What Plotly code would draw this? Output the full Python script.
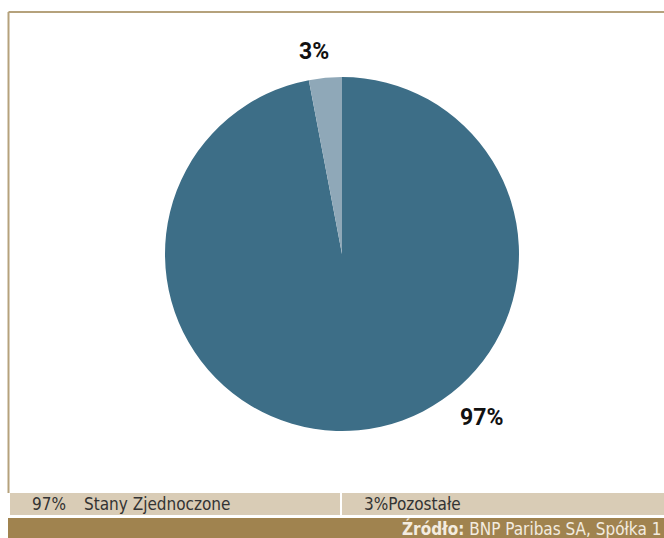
import plotly.graph_objects as go

labels = ["Stany Zjednoczone", "Pozostałe"]
values = [97, 3]
pct_text = ["97%", "3%"]
colors = ["#3d6e87", "#8fa8b8"]
source_bold = "Źródło:"
source_text = "BNP Paribas SA, Spółka 1"

W, H = 664, 538

def px(x):
    return x / W

def py(y):
    return 1 - y / H

fig = go.Figure()
fig.add_trace(go.Pie(
    labels=labels, values=values, sort=False, direction="clockwise",
    rotation=0, marker=dict(colors=colors, line=dict(width=0)),
    textinfo="none", hoverinfo="label+percent", showlegend=False,
    domain=dict(x=[px(165), px(519)], y=[py(431), py(77)]),
))

shapes = []
# frame borders
shapes.append(dict(type="line", xref="paper", yref="paper", x0=px(8.5), x1=1, y0=py(12), y1=py(12),
                   line=dict(color="#b5a27c", width=2)))
shapes.append(dict(type="line", xref="paper", yref="paper", x0=px(8.5), x1=px(8.5), y0=py(12), y1=py(493),
                   line=dict(color="#b5a27c", width=2)))
# legend band
shapes.append(dict(type="rect", xref="paper", yref="paper", x0=px(10), x1=1, y0=py(515), y1=py(493),
                   fillcolor="#d9ccb6", line=dict(width=0), layer="below"))
shapes.append(dict(type="line", xref="paper", yref="paper", x0=px(341), x1=px(341), y0=py(515), y1=py(493),
                   line=dict(color="#ffffff", width=2)))
# footer band
shapes.append(dict(type="rect", xref="paper", yref="paper", x0=px(8), x1=1, y0=0, y1=py(518),
                   fillcolor="#a0834f", line=dict(width=0), layer="below"))

font_narrow = "Liberation Sans Narrow, DejaVu Sans Condensed, sans-serif"
ann = [
    dict(x=px(314), y=py(51), text="<b>" + pct_text[1] + "</b>", showarrow=False, xref="paper", yref="paper",
         font=dict(family="Roboto, sans-serif", size=23, color="#111111"), xanchor="center", yanchor="middle"),
    dict(x=px(481), y=py(417), text="<b>" + pct_text[0] + "</b>", showarrow=False, xref="paper", yref="paper",
         font=dict(family="Roboto, sans-serif", size=23, color="#111111"), xanchor="center", yanchor="middle"),
    dict(x=px(30), y=py(504), text=pct_text[0], showarrow=False, xref="paper", yref="paper",
         font=dict(family=font_narrow, size=17, color="#333333"), xanchor="left", yanchor="middle"),
    dict(x=px(82), y=py(504), text=labels[0], showarrow=False, xref="paper", yref="paper",
         font=dict(family=font_narrow, size=17, color="#333333"), xanchor="left", yanchor="middle"),
    dict(x=px(362), y=py(504), text=pct_text[1] + labels[1], showarrow=False, xref="paper", yref="paper",
         font=dict(family=font_narrow, size=17, color="#333333"), xanchor="left", yanchor="middle"),
    dict(x=px(663), y=py(528), text="<b>" + source_bold + "</b> " + source_text, showarrow=False,
         xref="paper", yref="paper", font=dict(family=font_narrow, size=17, color="#f3ece0"),
         xanchor="right", yanchor="middle"),
]

fig.update_layout(width=W, height=H, margin=dict(l=0, r=0, t=0, b=0),
                  paper_bgcolor="#ffffff", plot_bgcolor="#ffffff",
                  shapes=shapes, annotations=ann)
fig.write_html("out.html", config={"displayModeBar": False},
               post_script="document.body.style.margin='0';document.body.style.overflow='hidden';")
